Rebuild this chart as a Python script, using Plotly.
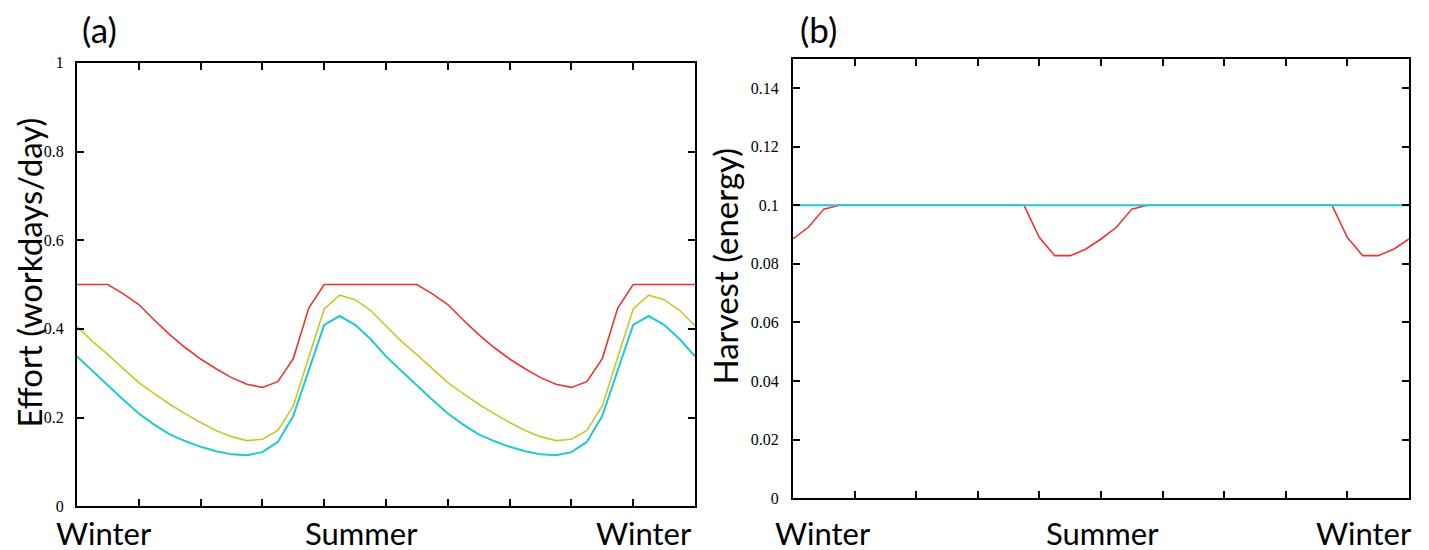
import plotly.graph_objects as go

# ---- data ----
n_steps = 40
x_vals = [i / n_steps for i in range(n_steps + 1)]

effort_red = [0.5, 0.5, 0.5, 0.479, 0.455, 0.42, 0.387, 0.358, 0.332, 0.31,
              0.29, 0.275, 0.268, 0.281, 0.333, 0.447, 0.5, 0.5, 0.5, 0.5,
              0.5, 0.5, 0.5, 0.479, 0.455, 0.42, 0.387, 0.358, 0.332, 0.31,
              0.29, 0.275, 0.268, 0.281, 0.333, 0.447, 0.5, 0.5, 0.5, 0.5, 0.5]
effort_yellow = [0.405, 0.372, 0.342, 0.31, 0.279, 0.254, 0.23, 0.209, 0.189, 0.171,
                 0.157, 0.148, 0.151, 0.171, 0.226, 0.336, 0.445, 0.476, 0.466, 0.442,
                 0.407, 0.372, 0.342, 0.31, 0.279, 0.254, 0.23, 0.209, 0.189, 0.171,
                 0.157, 0.148, 0.151, 0.171, 0.226, 0.336, 0.445, 0.476, 0.466, 0.442, 0.407]
effort_cyan = [0.338, 0.305, 0.272, 0.24, 0.209, 0.184, 0.162, 0.147, 0.134, 0.124,
               0.117, 0.115, 0.122, 0.145, 0.204, 0.306, 0.409, 0.429, 0.409, 0.377,
               0.338, 0.305, 0.272, 0.24, 0.209, 0.184, 0.162, 0.147, 0.134, 0.124,
               0.117, 0.115, 0.122, 0.145, 0.204, 0.306, 0.409, 0.429, 0.409, 0.377, 0.338]

harvest_red = [0.0885, 0.0925, 0.0987, 0.1, 0.1, 0.1, 0.1, 0.1, 0.1, 0.1,
               0.1, 0.1, 0.1, 0.1, 0.1, 0.1, 0.089, 0.0828, 0.0828, 0.085,
               0.0885, 0.0925, 0.0987, 0.1, 0.1, 0.1, 0.1, 0.1, 0.1, 0.1,
               0.1, 0.1, 0.1, 0.1, 0.1, 0.1, 0.089, 0.0828, 0.0828, 0.085, 0.0885]
harvest_cyan = [0.1] * 41

season_labels = ["Winter", "Summer", "Winter"]
effort_ticks = [0, 0.2, 0.4, 0.6, 0.8, 1]
effort_ticktext = ["0", "0.2", "0.4", "0.6", "0.8", "1"]
harvest_ticks = [0, 0.02, 0.04, 0.06, 0.08, 0.1, 0.12, 0.14]
harvest_ticktext = ["0", "0.02", "0.04", "0.06", "0.08", "0.1", "0.12", "0.14"]

RED = "#ee3333"
YELLOW = "#c8c828"
CYAN = "#22c8d2"

# layout geometry: target positions are given in picture pixels and
# converted to figure coordinates (page body margin + observed vertical mapping)
OFF_X = 8
W, H = 1429 - 2 * OFF_X, 560
Y_A, Y_B = 16.3, 550 / 569

def px_x(x):
    return (x - OFF_X) / W

def px_y(y):
    f = (y - Y_A) / Y_B
    return (H - f) / H

fig = go.Figure()
fig.add_trace(go.Scatter(x=x_vals, y=effort_red, mode="lines",
                         line=dict(color=RED, width=1.6), xaxis="x", yaxis="y"))
fig.add_trace(go.Scatter(x=x_vals, y=effort_yellow, mode="lines",
                         line=dict(color=YELLOW, width=1.6), xaxis="x", yaxis="y"))
fig.add_trace(go.Scatter(x=x_vals, y=effort_cyan, mode="lines",
                         line=dict(color=CYAN, width=2), xaxis="x", yaxis="y"))
fig.add_trace(go.Scatter(x=x_vals, y=harvest_red, mode="lines",
                         line=dict(color=RED, width=1.6), xaxis="x2", yaxis="y2"))
fig.add_trace(go.Scatter(x=x_vals, y=harvest_cyan, mode="lines",
                         line=dict(color=CYAN, width=2), xaxis="x2", yaxis="y2"))

tickfont = dict(family="Liberation Serif", size=16, color="black")
common_axis = dict(showline=True, mirror="ticks", linecolor="black", linewidth=2,
                   ticks="inside", ticklen=7, tickwidth=1.5, tickcolor="black",
                   showgrid=False, zeroline=False)

fig.update_layout(
    width=W, height=H, autosize=False,
    margin=dict(l=0, r=0, t=0, b=0),
    paper_bgcolor="white", plot_bgcolor="white",
    showlegend=False,
    xaxis=dict(domain=[px_x(77), px_x(695)], range=[0, 1], tick0=0, dtick=0.1,
               showticklabels=False, anchor="y", **common_axis),
    yaxis=dict(domain=[px_y(505), px_y(63)], range=[0, 1], tickvals=effort_ticks,
               ticktext=effort_ticktext, tickfont=tickfont, ticklabelstandoff=8,
               anchor="x", **common_axis),
    xaxis2=dict(domain=[px_x(793), px_x(1409)], range=[0, 1], tick0=0, dtick=0.1,
                showticklabels=False, anchor="y2", **common_axis),
    yaxis2=dict(domain=[px_y(497), px_y(59)], range=[0, 0.15], tickvals=harvest_ticks,
                ticktext=harvest_ticktext, tickfont=tickfont, ticklabelstandoff=9,
                anchor="x2", **common_axis),
)

big = dict(family="Lato", size=31, color="black")
ann = []
for xd, lab in zip([0.044, 0.46, 0.917], season_labels):
    ann.append(dict(text=lab, x=xd, y=px_y(532), xref="x domain", yref="paper",
                    showarrow=False, font=big, xanchor="center", yanchor="middle"))
for xd, lab in zip([0.049, 0.503, 0.927], season_labels):
    ann.append(dict(text=lab, x=xd, y=px_y(532), xref="x2 domain", yref="paper",
                    showarrow=False, font=big, xanchor="center", yanchor="middle"))

panel_font = dict(family="Lato", size=35, color="black")
ann.append(dict(text="(a)", x=px_x(99), y=px_y(29), xref="paper", yref="paper",
                showarrow=False, font=panel_font, xanchor="center", yanchor="middle"))
ann.append(dict(text="(b)", x=px_x(818), y=px_y(29), xref="paper", yref="paper",
                showarrow=False, font=panel_font, xanchor="center", yanchor="middle"))
title_font = dict(family="Lato", size=33, color="black")
ann.append(dict(text="Effort (workdays/day)", x=px_x(29), y=px_y(272),
                xref="paper", yref="paper", showarrow=False, textangle=-90,
                font=title_font, xanchor="center", yanchor="middle"))
ann.append(dict(text="Harvest (energy)", x=px_x(725), y=px_y(266),
                xref="paper", yref="paper", showarrow=False, textangle=-90,
                font=title_font, xanchor="center", yanchor="middle"))

fig.update_layout(annotations=ann)
fig.write_html("out.html")
